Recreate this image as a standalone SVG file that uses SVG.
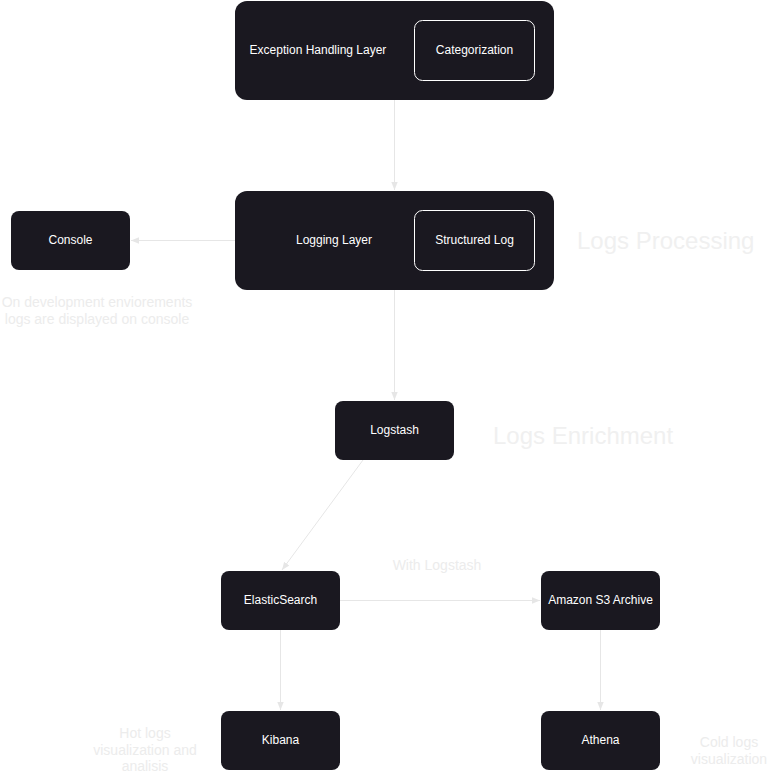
<svg xmlns="http://www.w3.org/2000/svg" width="778" height="776" viewBox="0 0 778 776">
<style>
.node{fill:#1a1820}
.inner{fill:none;stroke:#ffffff;stroke-width:1}
.t{font-family:"Liberation Sans",Arial,sans-serif;font-size:12px;fill:#ffffff;text-anchor:middle;dominant-baseline:central}
.lbl{font-family:"Liberation Sans",Arial,sans-serif;font-size:14px;fill:#ececec;text-anchor:middle;dominant-baseline:central}
.big{font-family:"Liberation Sans",Arial,sans-serif;font-size:24px;fill:#f0f0f0;dominant-baseline:central}
.c{stroke:#e6e6e6;stroke-width:1;fill:none;marker-end:url(#ah)}
</style>
<defs>
<marker id="ah" viewBox="0 0 10 10" refX="10" refY="5" markerWidth="8" markerHeight="8" markerUnits="userSpaceOnUse" orient="auto">
<path d="M0,1 L10,5 L0,9 Z" fill="#e6e6e6"/>
</marker>
</defs>
<rect width="778" height="776" fill="#ffffff"/>
<g id="connectors">
<line class="c" x1="394.5" y1="100" x2="394.5" y2="190"/>
<line class="c" x1="235" y1="240.5" x2="131" y2="240.5"/>
<line class="c" x1="394.5" y1="290" x2="394.5" y2="400"/>
<line class="c" x1="363" y1="460" x2="282" y2="570"/>
<line class="c" x1="340" y1="600.5" x2="540" y2="600.5"/>
<line class="c" x1="280.5" y1="630" x2="280.5" y2="710"/>
<line class="c" x1="600.5" y1="630" x2="600.5" y2="710"/>
</g>
<g id="exception-layer">
<rect class="node" x="235" y="1" width="319" height="99" rx="12"/>
<text class="t" x="318" y="50">Exception Handling Layer</text>
</g>
<g id="categorization">
<rect class="inner" x="414.5" y="20.5" width="120" height="60" rx="8"/>
<text class="t" x="474.5" y="50">Categorization</text>
</g>
<g id="logging-layer">
<rect class="node" x="235" y="191" width="319" height="99" rx="12"/>
<text class="t" x="334" y="240">Logging Layer</text>
</g>
<g id="structured-log">
<rect class="inner" x="414.5" y="210.5" width="120" height="60" rx="8"/>
<text class="t" x="474.5" y="240">Structured Log</text>
</g>
<g id="console">
<rect class="node" x="11" y="211" width="119" height="59" rx="8"/>
<text class="t" x="70.5" y="240">Console</text>
</g>
<g id="logstash">
<rect class="node" x="335" y="401" width="119" height="59" rx="8"/>
<text class="t" x="394.5" y="430">Logstash</text>
</g>
<g id="elasticsearch">
<rect class="node" x="221" y="571" width="119" height="59" rx="8"/>
<text class="t" x="280.5" y="600">ElasticSearch</text>
</g>
<g id="s3">
<rect class="node" x="541" y="571" width="119" height="59" rx="8"/>
<text class="t" x="600.5" y="600">Amazon S3 Archive</text>
</g>
<g id="kibana">
<rect class="node" x="221" y="711" width="119" height="59" rx="8"/>
<text class="t" x="280.5" y="740">Kibana</text>
</g>
<g id="athena">
<rect class="node" x="541" y="711" width="119" height="59" rx="8"/>
<text class="t" x="600.5" y="740">Athena</text>
</g>
<g id="labels">
<text class="big" x="577" y="240">Logs Processing</text>
<text class="big" x="493" y="435">Logs Enrichment</text>
<text class="lbl" x="437" y="565">With Logstash</text>
<text class="lbl" x="97" y="302">On development enviorements</text>
<text class="lbl" x="97" y="319">logs are displayed on console</text>
<text class="lbl" x="145" y="733">Hot logs</text>
<text class="lbl" x="145" y="750">visualization and</text>
<text class="lbl" x="145" y="766">analisis</text>
<text class="lbl" x="729" y="742">Cold logs</text>
<text class="lbl" x="729" y="759">visualization</text>
</g>
</svg>
